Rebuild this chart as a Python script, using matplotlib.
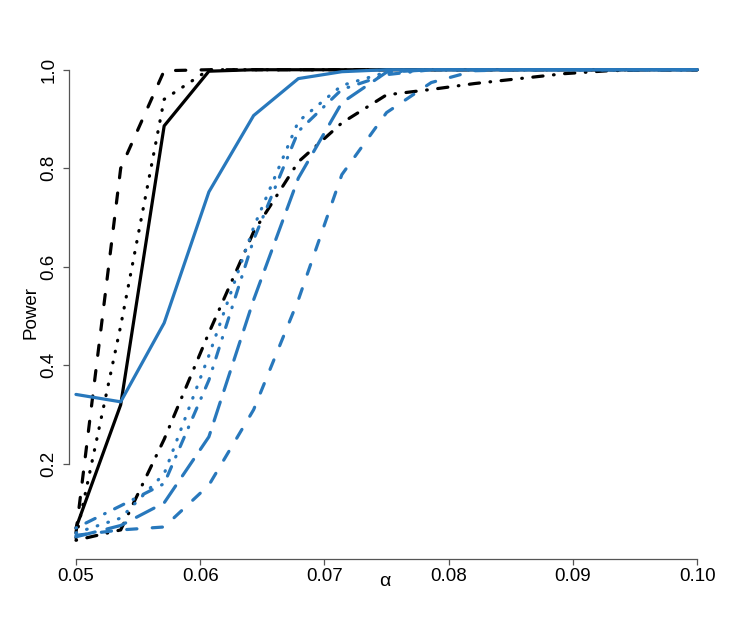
import matplotlib

matplotlib.use("Agg")
import matplotlib.pyplot as plt

plt.rcParams["font.family"] = ["Liberation Sans", "DejaVu Sans"]

# significance levels on the x axis
alpha = [0.05, 0.0536, 0.0571, 0.0607, 0.0643, 0.0679, 0.0714, 0.075,
         0.0786, 0.0821, 0.0857, 0.0893, 0.0929, 0.0964, 0.10]

# power curves, black group
black_solid = [0.07, 0.32, 0.886, 0.997, 1.0, 1.0, 1.0, 1.0, 1.0, 1.0, 1.0, 1.0, 1.0, 1.0, 1.0]
black_dashed = [0.06, 0.80, 0.998, 1.0, 1.0, 1.0, 1.0, 1.0, 1.0, 1.0, 1.0, 1.0, 1.0, 1.0, 1.0]
black_dotted = [0.05, 0.48, 0.94, 1.0, 1.0, 1.0, 1.0, 1.0, 1.0, 1.0, 1.0, 1.0, 1.0, 1.0, 1.0]
black_dotdash = [0.045, 0.066, 0.25, 0.466, 0.671, 0.813, 0.892, 0.949, 0.960, 0.972,
                 0.982, 0.992, 0.998, 1.0, 1.0]

# power curves, blue group
blue_solid = [0.341, 0.326, 0.486, 0.752, 0.907, 0.982, 0.996, 1.0, 1.0, 1.0, 1.0, 1.0, 1.0, 1.0, 1.0]
blue_dashed = [0.055, 0.066, 0.072, 0.157, 0.31, 0.533, 0.787, 0.913, 0.974, 0.998,
               1.0, 1.0, 1.0, 1.0, 1.0]
blue_dotted = [0.06, 0.09, 0.18, 0.42, 0.68, 0.895, 0.968, 0.995, 1.0, 1.0, 1.0, 1.0, 1.0, 1.0, 1.0]
blue_dotdash = [0.07, 0.115, 0.16, 0.37, 0.655, 0.875, 0.96, 0.99, 1.0, 1.0, 1.0, 1.0, 1.0, 1.0, 1.0]
blue_longdash = [0.052, 0.075, 0.121, 0.255, 0.533, 0.78, 0.933, 0.995, 1.0, 1.0,
                 1.0, 1.0, 1.0, 1.0, 1.0]

x_ticks = [0.05, 0.06, 0.07, 0.08, 0.09, 0.10]
x_tick_labels = ["0.05", "0.06", "0.07", "0.08", "0.09", "0.10"]
y_ticks = [0.2, 0.4, 0.6, 0.8, 1.0]
y_tick_labels = ["0.2", "0.4", "0.6", "0.8", "1.0"]

BLUE = "#2878bc"
LW = 2.3

# R-like line types (units of line width)
DASHED = (0, (3.2, 4.8))
DOTTED = (0, (0.2, 3.3))
DOTDASH = (0, (0.2, 3.3, 3.2, 3.3))
LONGDASH = (0, (6.2, 3.8))

W, H = 747, 623
fig = plt.figure(figsize=(W / 100, H / 100), dpi=100)
left_px, right_px, top_px, bottom_px = 69, 722, 51, 559
ax = fig.add_axes([left_px / W, 1 - bottom_px / H,
                   (right_px - left_px) / W, (bottom_px - top_px) / H])

curves = [
    (black_solid, "black", "-"),
    (black_dashed, "black", DASHED),
    (black_dotted, "black", DOTTED),
    (black_dotdash, "black", DOTDASH),
    (blue_solid, BLUE, "-"),
    (blue_dashed, BLUE, DASHED),
    (blue_dotted, BLUE, DOTTED),
    (blue_dotdash, BLUE, DOTDASH),
    (blue_longdash, BLUE, LONGDASH),
]
for values, color, style in curves:
    ax.plot(alpha, values, color=color, linestyle=style, linewidth=LW,
            dash_capstyle="round", solid_capstyle="round")

ax.set_xlim(0.04944, 0.102)
ax.set_ylim(0.007, 1.038)

for side in ("top", "right"):
    ax.spines[side].set_visible(False)
for side in ("left", "bottom"):
    ax.spines[side].set_color("#555555")
    ax.spines[side].set_linewidth(0.9)
ax.spines["bottom"].set_bounds(0.05, 0.10)
ax.spines["left"].set_bounds(0.2, 1.0)

ax.set_xticks(x_ticks)
ax.set_xticklabels(x_tick_labels)
ax.set_yticks(y_ticks)
ax.set_yticklabels(y_tick_labels, rotation=90, va="center")
ax.tick_params(direction="out", length=4.5, width=0.9, color="#555555",
               labelsize=13.5, labelcolor="black")
ax.tick_params(axis="x", pad=2)
ax.tick_params(axis="y", pad=4)

fig.text(385 / W, 1 - 581 / H, "α", ha="center", va="center", fontsize=14)
fig.text(31 / W, 1 - 312 / H, "Power", ha="center", va="center",
         rotation=90, fontsize=13.5)

fig.savefig("out.png", dpi=100)
